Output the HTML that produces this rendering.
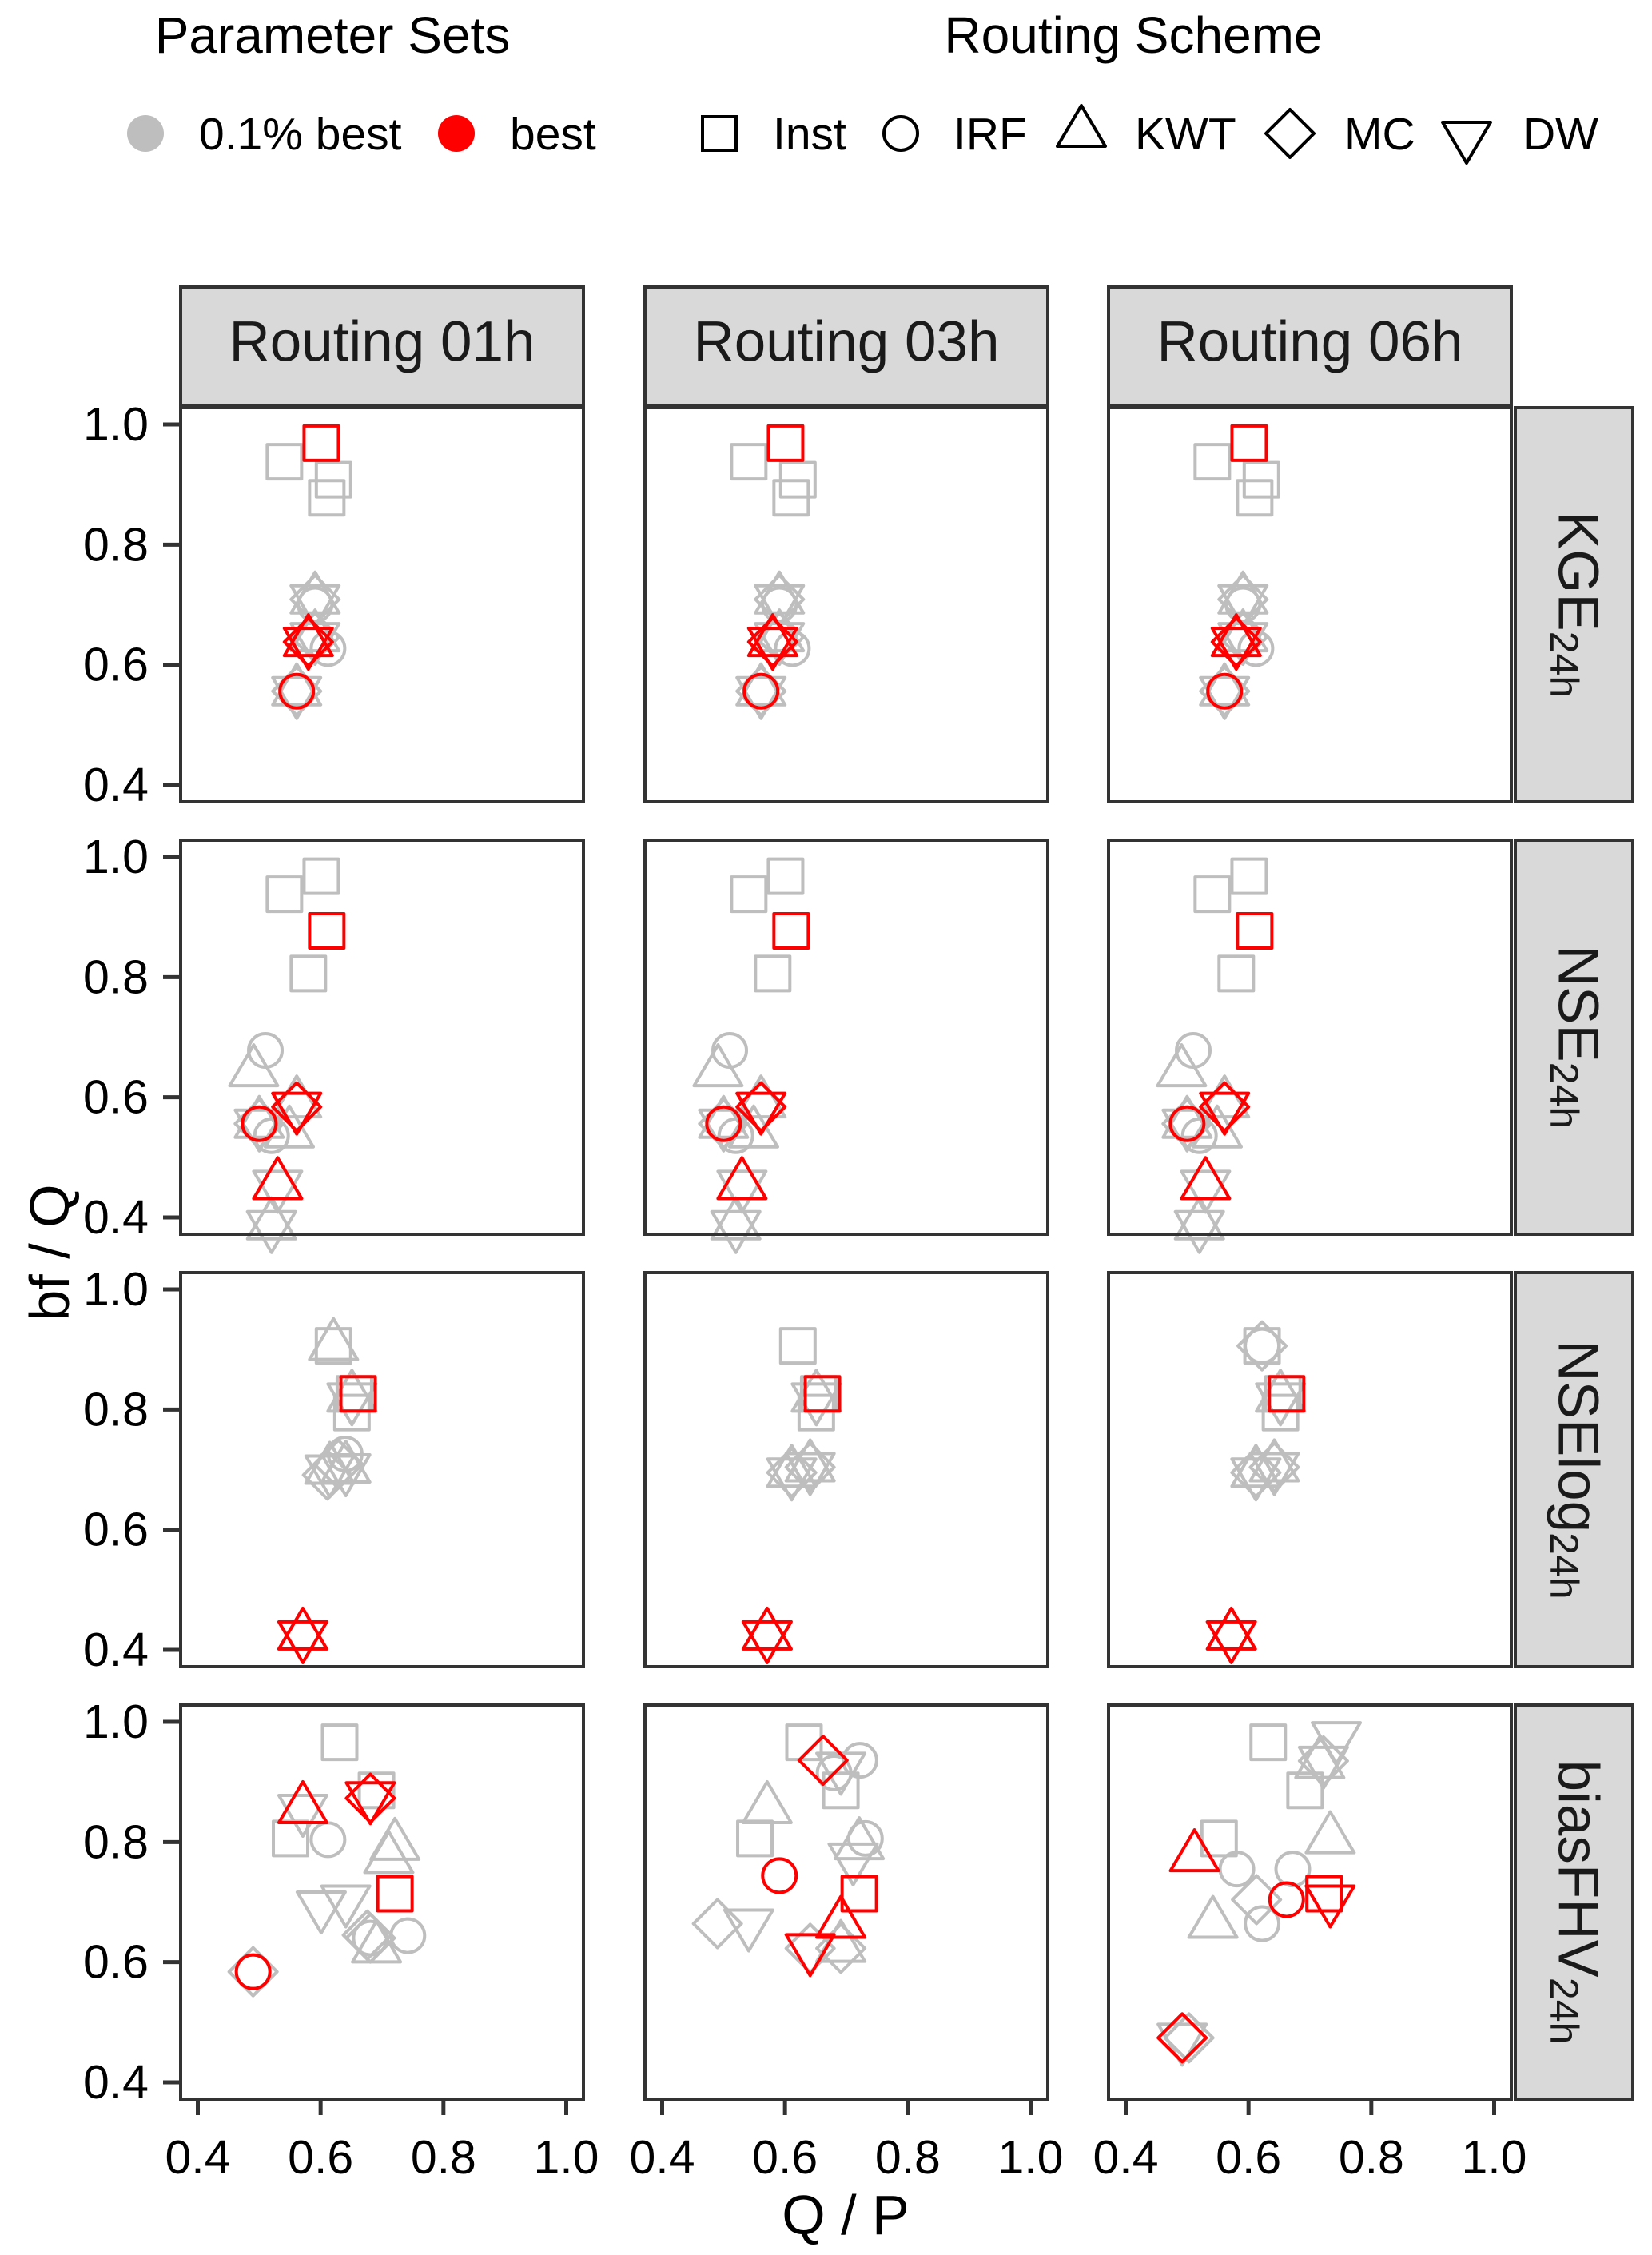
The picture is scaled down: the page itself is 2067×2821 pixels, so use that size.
<!DOCTYPE html>
<html><head><meta charset="utf-8"><style>
html,body{margin:0;padding:0;background:#fff;}
svg{display:block;font-family:"Liberation Sans",Arial,sans-serif;}
</style></head><body>
<svg id="chart" width="2067" height="2821" viewBox="0 0 2067 2821" xmlns="http://www.w3.org/2000/svg">
<g id="legend">
  <text x="416" y="66" font-size="64" text-anchor="middle" fill="#000">Parameter Sets</text>
  <text x="1418" y="66" font-size="64" text-anchor="middle" fill="#000">Routing Scheme</text>
  <g><circle cx="182" cy="167" r="23" fill="#bebebe"/><text x="249" y="187" font-size="57">0.1% best</text></g>
  <g><circle cx="571" cy="167" r="23" fill="#ff0000"/><text x="638" y="187" font-size="57">best</text></g>
  <g><rect x="879" y="146" width="42" height="42" fill="none" stroke="#000" stroke-width="4"/><text x="967" y="187" font-size="57">Inst</text></g>
  <g><circle cx="1127" cy="167" r="21" fill="none" stroke="#000" stroke-width="4"/><text x="1193" y="187" font-size="57">IRF</text></g>
  <g><polygon points="1353,132 1383,183 1323,183" fill="none" stroke="#000" stroke-width="4" stroke-linejoin="round"/><text x="1420" y="187" font-size="57">KWT</text></g>
  <g><polygon points="1614,137 1644,167 1614,197 1584,167" fill="none" stroke="#000" stroke-width="4" stroke-linejoin="round"/><text x="1682" y="187" font-size="57">MC</text></g>
  <g><polygon points="1805,153 1865,153 1835,204" fill="none" stroke="#000" stroke-width="4" stroke-linejoin="round"/><text x="1905" y="187" font-size="57">DW</text></g>
</g>
<text transform="rotate(-90,62,1567)" x="62" y="1567" font-size="70" text-anchor="middle" dominant-baseline="central">bf / Q</text>
<text x="1058" y="2795" font-size="70" text-anchor="middle">Q / P</text>
<g id="panels"></g>
</svg>
<script>
const routings = ["Routing 01h", "Routing 03h", "Routing 06h"];
const metrics = ["KGE", "NSE", "NSElog", "biasFHV"];
const xTicks = [0.4, 0.6, 0.8, 1.0];
const yTicks = [0.4, 0.6, 0.8, 1.0];
const tickLabels = ["0.4", "0.6", "0.8", "1.0"];
const domain = [0.372, 1.028];

// [shape, set, x (Q/P), y (bf/Q)]  S=Inst C=IRF T=KWT D=MC V=DW ; g=0.1% best, r=best
const KGE_01h = [["S","g",.541,.938],["S","g",.621,.908],["S","g",.610,.878],["T","g",.591,.709],["V","g",.591,.709],["D","g",.591,.709],["C","g",.591,.700],["T","g",.591,.646],["V","g",.591,.646],["D","g",.591,.646],["C","g",.612,.627],["T","g",.561,.556],["V","g",.561,.556],["D","g",.561,.556],["S","r",.601,.969],["T","r",.580,.638],["V","r",.580,.638],["D","r",.580,.638],["C","r",.561,.556]];
const KGE_03h = [["S","g",.541,.938],["S","g",.621,.908],["S","g",.610,.878],["T","g",.591,.709],["V","g",.591,.709],["D","g",.591,.709],["C","g",.591,.700],["T","g",.591,.646],["V","g",.591,.646],["D","g",.591,.646],["C","g",.612,.627],["T","g",.561,.556],["V","g",.561,.556],["D","g",.561,.556],["S","r",.601,.969],["T","r",.580,.638],["V","r",.580,.638],["D","r",.580,.638],["C","r",.561,.556]];
const KGE_06h = [["S","g",.541,.938],["S","g",.621,.908],["S","g",.610,.878],["T","g",.591,.709],["V","g",.591,.709],["D","g",.591,.709],["C","g",.591,.700],["T","g",.591,.646],["V","g",.591,.646],["D","g",.591,.646],["C","g",.612,.627],["T","g",.561,.556],["V","g",.561,.556],["D","g",.561,.556],["S","r",.601,.969],["T","r",.580,.638],["V","r",.580,.638],["D","r",.580,.638],["C","r",.561,.556]];
const NSE_01h = [["S","g",.541,.938],["S","g",.601,.968],["S","g",.580,.806],["C","g",.510,.678],["T","g",.491,.642],["T","g",.561,.590],["T","g",.500,.556],["V","g",.500,.556],["D","g",.500,.556],["C","g",.520,.536],["T","g",.549,.540],["T","g",.530,.454],["V","g",.530,.454],["T","g",.520,.387],["V","g",.520,.387],["S","r",.610,.877],["V","r",.561,.584],["D","r",.561,.584],["C","r",.500,.556],["T","r",.530,.454]];
const NSE_03h = [["S","g",.541,.938],["S","g",.601,.968],["S","g",.580,.806],["C","g",.510,.678],["T","g",.491,.642],["T","g",.561,.590],["T","g",.500,.556],["V","g",.500,.556],["D","g",.500,.556],["C","g",.520,.536],["T","g",.549,.540],["T","g",.530,.454],["V","g",.530,.454],["T","g",.520,.387],["V","g",.520,.387],["S","r",.610,.877],["V","r",.561,.584],["D","r",.561,.584],["C","r",.500,.556],["T","r",.530,.454]];
const NSE_06h = [["S","g",.541,.938],["S","g",.601,.968],["S","g",.580,.806],["C","g",.510,.678],["T","g",.491,.642],["T","g",.561,.590],["T","g",.500,.556],["V","g",.500,.556],["D","g",.500,.556],["C","g",.520,.536],["T","g",.549,.540],["T","g",.530,.454],["V","g",.530,.454],["T","g",.520,.387],["V","g",.520,.387],["S","r",.610,.877],["V","r",.561,.584],["D","r",.561,.584],["C","r",.500,.556],["T","r",.530,.454]];
const NSElog_01h = [["S","g",.621,.906],["T","g",.621,.906],["S","g",.651,.795],["S","g",.655,.826],["T","g",.651,.820],["V","g",.651,.820],["C","g",.640,.726],["D","g",.611,.691],["D","g",.629,.709],["T","g",.641,.702],["V","g",.641,.702],["T","g",.615,.700],["V","g",.615,.700],["T","g",.571,.424],["V","g",.571,.424],["S","r",.661,.826],["T","r",.571,.424],["V","r",.571,.424]];
const NSElog_03h = [["S","g",.621,.906],["S","g",.651,.795],["S","g",.655,.826],["T","g",.651,.820],["V","g",.651,.820],["D","g",.611,.695],["T","g",.611,.695],["V","g",.611,.695],["D","g",.641,.704],["T","g",.641,.704],["V","g",.641,.704],["T","g",.571,.424],["V","g",.571,.424],["S","r",.661,.826],["T","r",.571,.424],["V","r",.571,.424]];
const NSElog_06h = [["S","g",.622,.906],["D","g",.622,.906],["C","g",.622,.906],["S","g",.652,.795],["S","g",.656,.826],["T","g",.652,.820],["V","g",.652,.820],["D","g",.612,.695],["T","g",.612,.695],["V","g",.612,.695],["D","g",.642,.704],["T","g",.642,.704],["V","g",.642,.704],["T","g",.572,.424],["V","g",.572,.424],["S","r",.662,.826],["T","r",.572,.424],["V","r",.572,.424]];
const biasFHV_01h = [["S","g",.631,.966],["V","g",.571,.855],["S","g",.551,.806],["C","g",.612,.804],["S","g",.691,.886],["T","g",.721,.794],["T","g",.711,.772],["V","g",.601,.694],["V","g",.641,.704],["D","g",.681,.640],["D","g",.676,.645],["T","g",.691,.623],["C","g",.742,.644],["C","g",.681,.640],["D","g",.490,.584],["T","r",.571,.855],["D","r",.681,.873],["V","r",.681,.876],["S","r",.721,.714],["C","r",.490,.584]];
const biasFHV_03h = [["S","g",.631,.966],["C","g",.722,.936],["V","g",.691,.925],["C","g",.680,.915],["S","g",.691,.886],["T","g",.571,.855],["S","g",.551,.806],["C","g",.731,.806],["T","g",.721,.795],["V","g",.711,.774],["D","g",.490,.664],["V","g",.541,.664],["D","g",.641,.623],["D","g",.691,.623],["T","g",.691,.624],["D","r",.662,.936],["C","r",.591,.744],["S","r",.721,.714],["T","r",.691,.664],["V","r",.641,.623]];
const biasFHV_06h = [["S","g",.632,.966],["V","g",.743,.976],["D","g",.722,.935],["V","g",.722,.935],["T","g",.716,.930],["S","g",.692,.886],["T","g",.733,.805],["S","g",.552,.806],["C","g",.581,.755],["C","g",.672,.755],["D","g",.613,.704],["C","g",.622,.664],["T","g",.542,.664],["D","g",.503,.474],["V","g",.492,.474],["T","r",.512,.775],["C","r",.662,.704],["S","r",.723,.714],["V","r",.733,.704],["D","r",.492,.474]];

const panelData = [[KGE_01h,KGE_03h,KGE_06h],[NSE_01h,NSE_03h,NSE_06h],[NSElog_01h,NSElog_03h,NSElog_06h],[biasFHV_01h,biasFHV_03h,biasFHV_06h]];

const NS = "http://www.w3.org/2000/svg";
const colLeft = [226, 807, 1387];
const rowTop = [510, 1051, 1592, 2133];
const PW = 504, PH = 493;
const root = document.getElementById('panels');
function mk(tag, attrs, parent) {
  const e = document.createElementNS(NS, tag);
  for (const k in attrs) e.setAttribute(k, attrs[k]);
  parent.appendChild(e);
  return e;
}
function xScale(c, v) { return colLeft[c] + (v - domain[0]) / (domain[1] - domain[0]) * PW; }
function yScale(r, v) { return rowTop[r] + (domain[1] - v) / (domain[1] - domain[0]) * PH; }
const shapeNames = {S:"inst",C:"irf",T:"kwt",D:"mc",V:"dw"};
function marker(g, s, set, x, y) {
  const col = set === "r" ? "#ff0000" : "#bebebe";
  const st = {fill:"none", stroke:col, "stroke-width":4, "stroke-linejoin":"round"};
  let e;
  if (s === "S") e = mk('rect', Object.assign({x:x-21.5, y:y-21.5, width:43, height:43}, st), g);
  else if (s === "C") e = mk('circle', Object.assign({cx:x, cy:y, r:21}, st), g);
  else if (s === "T") e = mk('polygon', Object.assign({points:`${x},${y-34} ${x+30},${y+17} ${x-30},${y+17}`}, st), g);
  else if (s === "V") e = mk('polygon', Object.assign({points:`${x-30},${y-17} ${x+30},${y-17} ${x},${y+34}`}, st), g);
  else e = mk('polygon', Object.assign({points:`${x},${y-30} ${x+30},${y} ${x},${y+30} ${x-30},${y}`}, st), g);
  
  
}
for (let c = 0; c < 3; c++) {
  const g = mk('g', {}, root);
  
  
  mk('rect', {x:colLeft[c], y:359, width:PW, height:148, fill:"#d9d9d9", stroke:"#333", "stroke-width":4}, g);
  const t = mk('text', {x:colLeft[c] + PW/2, y:428, "font-size":71, "text-anchor":"middle", "dominant-baseline":"central", fill:"#1a1a1a"}, g);
  t.textContent = routings[c];
}
for (let r = 0; r < 4; r++) {
  const gs = mk('g', {}, root);
  
  
  mk('rect', {x:1896, y:rowTop[r], width:147, height:PH, fill:"#d9d9d9", stroke:"#333", "stroke-width":4}, gs);
  const cx = 1974, cy = rowTop[r] + PH/2;
  const t = mk('text', {x:cx, y:cy, "font-size":71, "text-anchor":"middle", "dominant-baseline":"central", fill:"#1a1a1a", transform:`rotate(90,${cx},${cy})`}, gs);
  t.appendChild(document.createTextNode(metrics[r]));
  const sub = mk('tspan', {"font-size":50, dy:17}, t);
  sub.textContent = "24h";
  const gy = mk('g', {}, root);
  
  
  yTicks.forEach((v, i) => {
    const y = yScale(r, v);
    mk('line', {x1:204, x2:226, y1:y, y2:y, stroke:"#333", "stroke-width":5}, gy);
    const tl = mk('text', {x:186, y:y, "font-size":59, "text-anchor":"end", "dominant-baseline":"central", fill:"#000"}, gy);
    tl.textContent = tickLabels[i];
  });
  for (let c = 0; c < 3; c++) {
    const g = mk('g', {}, root);
    
    
    mk('rect', {x:colLeft[c], y:rowTop[r], width:PW, height:PH, fill:"#fff"}, g);
    const pts = panelData[r][c];
    ["g", "r"].forEach(set => {
      pts.filter(p => p[1] === set).forEach(p => marker(g, p[0], p[1], xScale(c, p[2]), yScale(r, p[3])));
    });
    mk('rect', {x:colLeft[c], y:rowTop[r], width:PW, height:PH, fill:"none", stroke:"#333", "stroke-width":4}, g);
  }
}
for (let c = 0; c < 3; c++) {
  const gx = mk('g', {}, root);
  
  
  const by = rowTop[3] + PH;
  xTicks.forEach((v, i) => {
    const x = xScale(c, v);
    mk('line', {x1:x, x2:x, y1:by, y2:by + 20, stroke:"#333", "stroke-width":5}, gx);
    const tl = mk('text', {x:x, y:2719, "font-size":59, "text-anchor":"middle", fill:"#000"}, gx);
    tl.textContent = tickLabels[i];
  });
}
</script>
</body></html>
